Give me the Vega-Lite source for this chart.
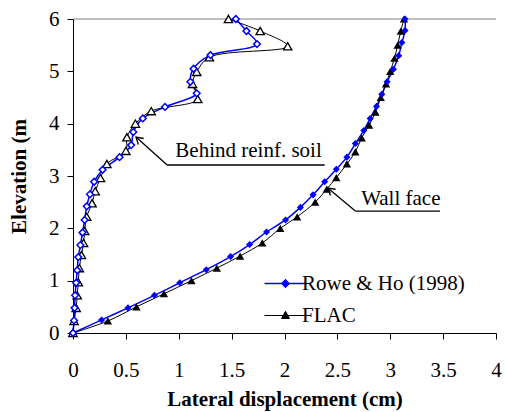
{
  "$schema": "https://vega.github.io/schema/vega-lite/v6.json",
  "width": 423,
  "height": 314,
  "autosize": "none",
  "padding": {"left": 73, "top": 19, "right": 9, "bottom": 79},
  "background": "white",
  "config": {
    "view": {"stroke": null},
    "font": "Times New Roman, Liberation Serif, DejaVu Serif, serif",
    "axis": {
      "grid": false,
      "domainColor": "black",
      "tickColor": "black",
      "labelColor": "black",
      "titleColor": "black",
      "labelFont": "Times New Roman, Liberation Serif, DejaVu Serif, serif",
      "titleFont": "Times New Roman, Liberation Serif, DejaVu Serif, serif",
      "labelFontSize": 21,
      "titleFontSize": 21,
      "titleFontWeight": "bold",
      "tickSize": 6,
      "labelFlush": false,
      "labelOverlap": false
    }
  },
  "datasets": {
    "curves": [
      {"s": "Rowe & Ho (1998)", "c": "wall", "x": 0, "y": 0},
      {"s": "Rowe & Ho (1998)", "c": "wall", "x": 0.27, "y": 0.25},
      {"s": "Rowe & Ho (1998)", "c": "wall", "x": 0.52, "y": 0.48},
      {"s": "Rowe & Ho (1998)", "c": "wall", "x": 0.77, "y": 0.72},
      {"s": "Rowe & Ho (1998)", "c": "wall", "x": 1.01, "y": 0.96},
      {"s": "Rowe & Ho (1998)", "c": "wall", "x": 1.26, "y": 1.21},
      {"s": "Rowe & Ho (1998)", "c": "wall", "x": 1.49, "y": 1.46},
      {"s": "Rowe & Ho (1998)", "c": "wall", "x": 1.67, "y": 1.69},
      {"s": "Rowe & Ho (1998)", "c": "wall", "x": 1.83, "y": 1.93},
      {"s": "Rowe & Ho (1998)", "c": "wall", "x": 2.01, "y": 2.16},
      {"s": "Rowe & Ho (1998)", "c": "wall", "x": 2.15, "y": 2.4},
      {"s": "Rowe & Ho (1998)", "c": "wall", "x": 2.27, "y": 2.64},
      {"s": "Rowe & Ho (1998)", "c": "wall", "x": 2.38, "y": 2.89},
      {"s": "Rowe & Ho (1998)", "c": "wall", "x": 2.49, "y": 3.13},
      {"s": "Rowe & Ho (1998)", "c": "wall", "x": 2.59, "y": 3.36},
      {"s": "Rowe & Ho (1998)", "c": "wall", "x": 2.67, "y": 3.62},
      {"s": "Rowe & Ho (1998)", "c": "wall", "x": 2.75, "y": 3.87},
      {"s": "Rowe & Ho (1998)", "c": "wall", "x": 2.81, "y": 4.1},
      {"s": "Rowe & Ho (1998)", "c": "wall", "x": 2.87, "y": 4.33},
      {"s": "Rowe & Ho (1998)", "c": "wall", "x": 2.92, "y": 4.56},
      {"s": "Rowe & Ho (1998)", "c": "wall", "x": 2.97, "y": 4.8},
      {"s": "Rowe & Ho (1998)", "c": "wall", "x": 3.03, "y": 5.04},
      {"s": "Rowe & Ho (1998)", "c": "wall", "x": 3.08, "y": 5.3},
      {"s": "Rowe & Ho (1998)", "c": "wall", "x": 3.11, "y": 5.55},
      {"s": "Rowe & Ho (1998)", "c": "wall", "x": 3.14, "y": 5.78},
      {"s": "Rowe & Ho (1998)", "c": "wall", "x": 3.14, "y": 6.0},
      {"s": "FLAC", "c": "wall", "x": 0, "y": 0},
      {"s": "FLAC", "c": "wall", "x": 0.33, "y": 0.23},
      {"s": "FLAC", "c": "wall", "x": 0.6, "y": 0.5},
      {"s": "FLAC", "c": "wall", "x": 0.86, "y": 0.75},
      {"s": "FLAC", "c": "wall", "x": 1.12, "y": 1.0},
      {"s": "FLAC", "c": "wall", "x": 1.36, "y": 1.24},
      {"s": "FLAC", "c": "wall", "x": 1.58, "y": 1.47},
      {"s": "FLAC", "c": "wall", "x": 1.79, "y": 1.72},
      {"s": "FLAC", "c": "wall", "x": 1.96, "y": 2.0},
      {"s": "FLAC", "c": "wall", "x": 2.12, "y": 2.22},
      {"s": "FLAC", "c": "wall", "x": 2.29, "y": 2.5},
      {"s": "FLAC", "c": "wall", "x": 2.4, "y": 2.75},
      {"s": "FLAC", "c": "wall", "x": 2.49, "y": 2.97},
      {"s": "FLAC", "c": "wall", "x": 2.59, "y": 3.23},
      {"s": "FLAC", "c": "wall", "x": 2.67, "y": 3.46},
      {"s": "FLAC", "c": "wall", "x": 2.73, "y": 3.73},
      {"s": "FLAC", "c": "wall", "x": 2.8, "y": 3.97},
      {"s": "FLAC", "c": "wall", "x": 2.86, "y": 4.22},
      {"s": "FLAC", "c": "wall", "x": 2.91, "y": 4.5},
      {"s": "FLAC", "c": "wall", "x": 2.96, "y": 4.76},
      {"s": "FLAC", "c": "wall", "x": 3.0, "y": 5.0},
      {"s": "FLAC", "c": "wall", "x": 3.04, "y": 5.25},
      {"s": "FLAC", "c": "wall", "x": 3.07, "y": 5.5},
      {"s": "FLAC", "c": "wall", "x": 3.1, "y": 5.77},
      {"s": "FLAC", "c": "wall", "x": 3.13, "y": 6.0},
      {"s": "Rowe & Ho (1998)", "c": "soil", "x": 0, "y": 0},
      {"s": "Rowe & Ho (1998)", "c": "soil", "x": 0.01, "y": 0.24},
      {"s": "Rowe & Ho (1998)", "c": "soil", "x": 0.015, "y": 0.48},
      {"s": "Rowe & Ho (1998)", "c": "soil", "x": 0.02, "y": 0.72},
      {"s": "Rowe & Ho (1998)", "c": "soil", "x": 0.03, "y": 0.96},
      {"s": "Rowe & Ho (1998)", "c": "soil", "x": 0.04, "y": 1.2},
      {"s": "Rowe & Ho (1998)", "c": "soil", "x": 0.05, "y": 1.45},
      {"s": "Rowe & Ho (1998)", "c": "soil", "x": 0.07, "y": 1.68},
      {"s": "Rowe & Ho (1998)", "c": "soil", "x": 0.09, "y": 1.92},
      {"s": "Rowe & Ho (1998)", "c": "soil", "x": 0.11, "y": 2.16},
      {"s": "Rowe & Ho (1998)", "c": "soil", "x": 0.13, "y": 2.42},
      {"s": "Rowe & Ho (1998)", "c": "soil", "x": 0.16, "y": 2.65},
      {"s": "Rowe & Ho (1998)", "c": "soil", "x": 0.2, "y": 2.89},
      {"s": "Rowe & Ho (1998)", "c": "soil", "x": 0.28, "y": 3.12},
      {"s": "Rowe & Ho (1998)", "c": "soil", "x": 0.44, "y": 3.36},
      {"s": "Rowe & Ho (1998)", "c": "soil", "x": 0.55, "y": 3.59},
      {"s": "Rowe & Ho (1998)", "c": "soil", "x": 0.57, "y": 3.84},
      {"s": "Rowe & Ho (1998)", "c": "soil", "x": 0.66, "y": 4.1},
      {"s": "Rowe & Ho (1998)", "c": "soil", "x": 0.87, "y": 4.32},
      {"s": "Rowe & Ho (1998)", "c": "soil", "x": 1.17, "y": 4.58},
      {"s": "Rowe & Ho (1998)", "c": "soil", "x": 1.11, "y": 4.8},
      {"s": "Rowe & Ho (1998)", "c": "soil", "x": 1.14, "y": 5.05},
      {"s": "Rowe & Ho (1998)", "c": "soil", "x": 1.3, "y": 5.31},
      {"s": "Rowe & Ho (1998)", "c": "soil", "x": 1.74, "y": 5.52},
      {"s": "Rowe & Ho (1998)", "c": "soil", "x": 1.64, "y": 5.77},
      {"s": "Rowe & Ho (1998)", "c": "soil", "x": 1.54, "y": 6.0},
      {"s": "FLAC", "c": "soil", "x": 0, "y": 0},
      {"s": "FLAC", "c": "soil", "x": 0.01, "y": 0.23},
      {"s": "FLAC", "c": "soil", "x": 0.03, "y": 0.48},
      {"s": "FLAC", "c": "soil", "x": 0.04, "y": 0.72},
      {"s": "FLAC", "c": "soil", "x": 0.05, "y": 0.97},
      {"s": "FLAC", "c": "soil", "x": 0.06, "y": 1.24},
      {"s": "FLAC", "c": "soil", "x": 0.08, "y": 1.49},
      {"s": "FLAC", "c": "soil", "x": 0.1, "y": 1.72},
      {"s": "FLAC", "c": "soil", "x": 0.11, "y": 1.95},
      {"s": "FLAC", "c": "soil", "x": 0.13, "y": 2.22},
      {"s": "FLAC", "c": "soil", "x": 0.18, "y": 2.48},
      {"s": "FLAC", "c": "soil", "x": 0.21, "y": 2.71},
      {"s": "FLAC", "c": "soil", "x": 0.26, "y": 2.96},
      {"s": "FLAC", "c": "soil", "x": 0.32, "y": 3.23},
      {"s": "FLAC", "c": "soil", "x": 0.5, "y": 3.48},
      {"s": "FLAC", "c": "soil", "x": 0.51, "y": 3.74},
      {"s": "FLAC", "c": "soil", "x": 0.59, "y": 4.0},
      {"s": "FLAC", "c": "soil", "x": 0.74, "y": 4.24},
      {"s": "FLAC", "c": "soil", "x": 1.18, "y": 4.47},
      {"s": "FLAC", "c": "soil", "x": 1.13, "y": 4.76},
      {"s": "FLAC", "c": "soil", "x": 1.17, "y": 4.99},
      {"s": "FLAC", "c": "soil", "x": 1.29, "y": 5.27},
      {"s": "FLAC", "c": "soil", "x": 2.03, "y": 5.48},
      {"s": "FLAC", "c": "soil", "x": 1.77, "y": 5.77},
      {"s": "FLAC", "c": "soil", "x": 1.47, "y": 6.0}
    ],
    "leaders": [
      {"note": "soil", "x": 0.89, "y": 3.21, "x2": 2.38, "y2": 3.21},
      {"note": "soil", "x": 0.89, "y": 3.21, "x2": 0.596, "y2": 3.745},
      {"note": "wall", "x": 2.67, "y": 2.33, "x2": 3.47, "y2": 2.33},
      {"note": "wall", "x": 2.67, "y": 2.33, "x2": 2.41, "y2": 2.77}
    ],
    "tips": [
      {"note": "soil", "x": 0.596, "y": 3.745},
      {"note": "wall", "x": 2.41, "y": 2.77}
    ],
    "labels": [
      {"text": "Behind reinf. soil", "x": 1.66, "y": 3.36},
      {"text": "Wall face", "x": 3.1, "y": 2.45}
    ],
    "frame": [
      {"x": 0, "x2": 4, "y": 6}
    ]
  },
  "encoding": {
    "x": {
      "field": "x", "type": "quantitative",
      "scale": {"domain": [0, 4], "nice": false, "zero": false},
      "axis": {
        "title": "Lateral displacement (cm)",
        "values": [0, 0.5, 1, 1.5, 2, 2.5, 3, 3.5, 4],
        "format": "~g",
        "labelPadding": 20,
        "titlePadding": 8
      }
    },
    "y": {
      "field": "y", "type": "quantitative",
      "scale": {"domain": [0, 6], "nice": false, "zero": false},
      "axis": {
        "title": "Elevation (m",
        "values": [0, 1, 2, 3, 4, 5, 6],
        "format": "d",
        "labelPadding": 8,
        "titlePadding": 19
      }
    }
  },
  "layer": [
    {
      "data": {"name": "frame"},
      "mark": {"type": "rule", "color": "#808080", "strokeWidth": 1},
      "encoding": {"x2": {"field": "x2"}}
    },
    {
      "data": {"name": "curves"},
      "mark": {"type": "line", "interpolate": "catmull-rom"},
      "encoding": {
        "color": {
          "field": "s", "type": "nominal",
          "scale": {"domain": ["Rowe & Ho (1998)", "FLAC"], "range": ["#0000ff", "#000000"]},
          "legend": {
            "orient": "none",
            "legendX": 202,
            "legendY": 254,
            "title": null,
            "padding": 0,
            "labelFont": "Times New Roman, Liberation Serif, DejaVu Serif, serif",
            "labelFontSize": 21,
            "labelColor": "black",
            "labelLimit": 0,
            "labelOffset": 6,
            "rowPadding": 10,
            "symbolSize": 1764,
            "symbolStrokeWidth": 1.5,
            "encode": {
              "symbols": {
                "update": {
                  "shape": {"signal": "datum.value === 'FLAC' ? 'M-1,0H1M0,-0.2L0.19,0.14L-0.19,0.14Z' : 'M-1,0H1M0,-0.17L0.17,0L0,0.17L-0.17,0Z'"},
                  "fill": {"signal": "datum.value === 'FLAC' ? '#000000' : '#0000ff'"},
                  "stroke": {"signal": "datum.value === 'FLAC' ? '#000000' : '#0000ff'"},
                  "strokeWidth": {"signal": "datum.value === 'FLAC' ? 1 : 1.5"},
                  "opacity": {"value": 1},
                  "fillOpacity": {"value": 1}
                }
              }
            }
          }
        },
        "detail": {"field": "c"},
        "order": {"field": "y", "type": "quantitative"},
        "strokeWidth": {"condition": {"test": "datum.s === 'FLAC'", "value": 1}, "value": 1.5}
      }
    },
    {
      "data": {"name": "curves"},
      "transform": [{"filter": "datum.c === 'wall' && datum.s === 'FLAC'"}],
      "mark": {"type": "point", "shape": "triangle-up", "filled": true, "opacity": 1, "size": 70},
      "encoding": {"color": {"field": "s", "type": "nominal"}}
    },
    {
      "data": {"name": "curves"},
      "transform": [{"filter": "datum.c === 'wall' && datum.s !== 'FLAC'"}],
      "mark": {"type": "point", "shape": "diamond", "filled": true, "opacity": 1, "size": 50},
      "encoding": {"color": {"field": "s", "type": "nominal"}}
    },
    {
      "data": {"name": "curves"},
      "transform": [{"filter": "datum.c === 'soil' && datum.s === 'FLAC'"}],
      "mark": {"type": "point", "shape": "triangle-up", "filled": false, "fill": "white", "fillOpacity": 1, "opacity": 1, "size": 70, "strokeWidth": 1.3},
      "encoding": {"color": {"field": "s", "type": "nominal"}}
    },
    {
      "data": {"name": "curves"},
      "transform": [{"filter": "datum.c === 'soil' && datum.s !== 'FLAC'"}],
      "mark": {"type": "point", "shape": "diamond", "filled": false, "fill": "white", "fillOpacity": 1, "opacity": 1, "size": 45, "strokeWidth": 1.5},
      "encoding": {"color": {"field": "s", "type": "nominal"}}
    },
    {
      "data": {"name": "leaders"},
      "mark": {"type": "rule", "color": "black", "strokeWidth": 1.3},
      "encoding": {"x2": {"field": "x2"}, "y2": {"field": "y2"}}
    },
    {
      "data": {"name": "tips"},
      "transform": [{"filter": "datum.note === 'soil'"}],
      "mark": {"type": "point", "shape": "M-1,-0.6L0,0L-1,0.6", "filled": false, "color": "black", "strokeWidth": 1.3, "size": 180, "angle": 222, "opacity": 1}
    },
    {
      "data": {"name": "tips"},
      "transform": [{"filter": "datum.note === 'wall'"}],
      "mark": {"type": "point", "shape": "M-1,-0.6L0,0L-1,0.6", "filled": false, "color": "black", "strokeWidth": 1.3, "size": 180, "angle": 220, "opacity": 1}
    },
    {
      "data": {"name": "labels"},
      "mark": {"type": "text", "font": "Times New Roman, Liberation Serif, DejaVu Serif, serif", "fontSize": 21, "align": "center", "baseline": "alphabetic", "color": "black"},
      "encoding": {"text": {"field": "text"}}
    }
  ]
}
